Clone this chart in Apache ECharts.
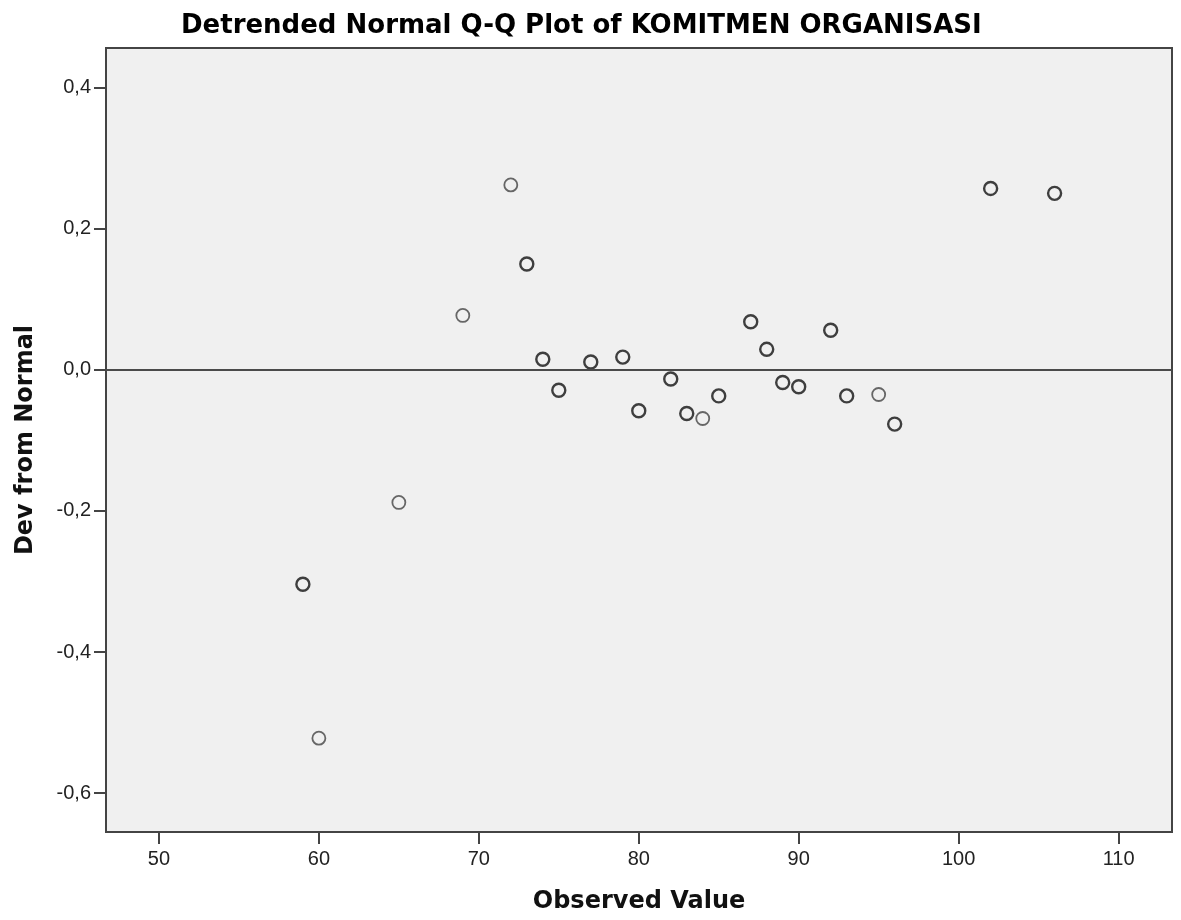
<!DOCTYPE html>
<html>
<head>
<meta charset="utf-8">
<title>Detrended Normal Q-Q Plot</title>
<script src="https://cdn.jsdelivr.net/npm/echarts@6/dist/echarts.min.js"></script>
<style>
  html, body { margin: 0; padding: 0; background: #fff; }
  #chart { width: 1181px; height: 920px; }
</style>
</head>
<body>
<div id="chart"></div>
<script>
// 单个观测值 (浅色圆圈)
const obsSingle = [60, 65, 69, 72, 84, 95];
const devSingle = [-0.522, -0.188, 0.077, 0.262, -0.069, -0.035];
// 重复观测值 (深色圆圈)
const obsRepeat = [59, 73, 74, 75, 77, 79, 80, 82, 83, 85, 87, 88, 89, 90, 92, 93, 96, 102, 106];
const devRepeat = [-0.304, 0.150, 0.015, -0.029, 0.011, 0.018, -0.058, -0.013, -0.062, -0.037,
  0.068, 0.029, -0.018, -0.024, 0.056, -0.037, -0.077, 0.257, 0.250];
// 刻度
const xTicks = [50, 60, 70, 80, 90, 100, 110];
const yTicks = [-0.6, -0.4, -0.2, 0, 0.2, 0.4];

const chart = echarts.init(document.getElementById('chart'));

const tickFont = { color: '#222', fontFamily: 'Liberation Sans', fontSize: 20 };
const nameFont = { color: '#111', fontFamily: 'DejaVu Sans', fontWeight: 'bold', fontSize: 24 };
const axisLine = { show: true, onZero: false, lineStyle: { color: '#444', width: 2 } };
const axisTick = { show: true, length: 12, lineStyle: { color: '#444', width: 2 } };

function toPairs(xs, ys) {
  return xs.map((x, i) => [x, ys[i]]);
}

const option = {
  backgroundColor: '#fff',
  animation: false,
  title: {
    text: 'Detrended Normal Q-Q Plot of KOMITMEN ORGANISASI',
    left: 176,
    top: 8,
    textStyle: { color: '#000', fontFamily: 'DejaVu Sans', fontWeight: 'bold', fontSize: 26 }
  },
  grid: {
    left: 106,
    right: 9,
    top: 48,
    bottom: 88,
    show: true,
    backgroundColor: '#f0f0f0',
    borderColor: '#444',
    borderWidth: 2
  },
  xAxis: {
    type: 'value',
    min: 46.69,
    max: 113.34,
    name: 'Observed Value',
    nameLocation: 'middle',
    nameGap: 58,
    nameTextStyle: nameFont,
    axisLine: axisLine,
    axisTick: Object.assign({ customValues: xTicks }, axisTick),
    axisLabel: Object.assign({ customValues: xTicks, margin: 17 }, tickFont),
    splitLine: { show: false }
  },
  yAxis: {
    type: 'value',
    min: -0.655,
    max: 0.456,
    name: 'Dev from Normal',
    nameLocation: 'middle',
    nameGap: 68,
    nameTextStyle: nameFont,
    axisLine: axisLine,
    axisTick: Object.assign({ customValues: yTicks }, axisTick),
    axisLabel: Object.assign({
      customValues: yTicks,
      margin: 15,
      formatter: (v) => v.toFixed(1).replace('.', ',')
    }, tickFont),
    splitLine: { show: false }
  },
  series: [
    {
      type: 'scatter',
      data: toPairs(obsSingle, devSingle),
      symbol: 'circle',
      symbolSize: 13,
      itemStyle: { color: 'rgba(0,0,0,0)', borderColor: '#444', borderWidth: 1.8 },
      z: 3
    },
    {
      type: 'scatter',
      data: toPairs(obsRepeat, devRepeat),
      symbol: 'circle',
      symbolSize: 13,
      itemStyle: { color: 'rgba(0,0,0,0)', borderColor: '#111', borderWidth: 2.4 },
      z: 3,
      // 零参考线
      markLine: {
        silent: true,
        symbol: ['none', 'none'],
        label: { show: false },
        lineStyle: { color: '#4a4a4a', width: 2, type: 'solid' },
        data: [{ yAxis: 0 }]
      }
    }
  ]
};

chart.setOption(option);
</script>
</body>
</html>
